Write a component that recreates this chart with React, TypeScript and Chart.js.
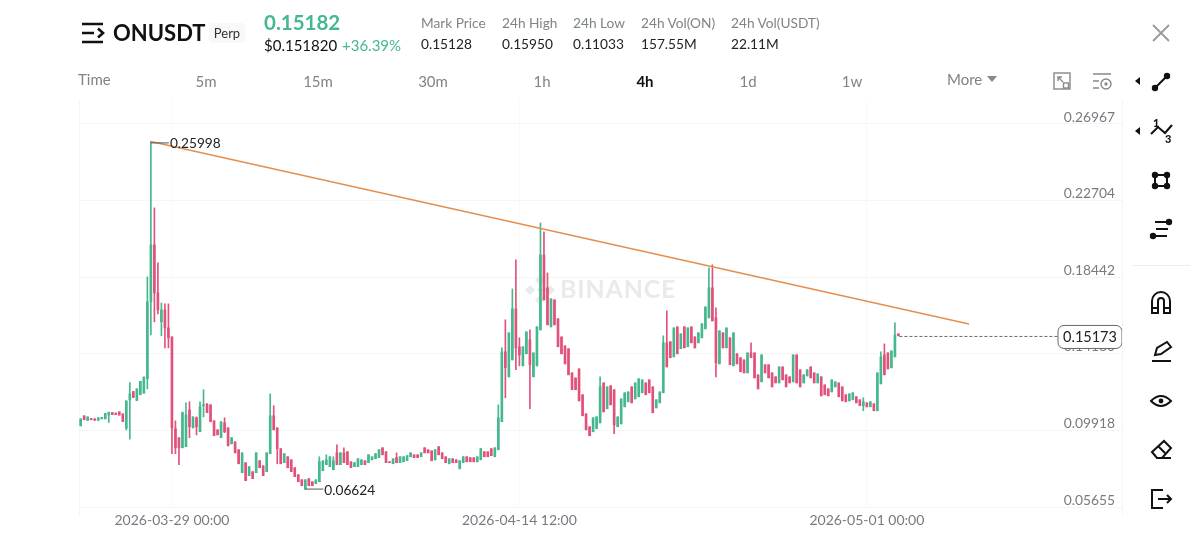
import React, { useEffect, useRef } from "react";
import { Chart, registerables } from "chart.js";

Chart.register(...registerables);

const FONT = "Lato, 'Open Sans', sans-serif";
const UP = "#45b88e";
const DOWN = "#e2517a";
const GRID = "#f4f5f5";
const GRID_FAINT = "#f8f9f9";

// 4h candles, oldest first
const opens = [
  .1017,.1073,.1047,.1058,.1056,.1047,.1056,.1056,.1078,.1091,
  .1088,.1095,.1084,.1004,.1162,.1208,.1158,.1190,.1199,.1279,
  .1707,.2024,.1757,.1596,.1662,.1562,.1512,.1001,.0951,.0895,
  .0901,.1106,.1006,.1062,.0984,.1129,.1140,.1134,.1045,.0995,
  .0951,.1034,.1006,.0917,.0928,.0884,.0756,.0812,.0740,.0762,
  .0756,.0823,.0795,.0762,.0862,.1073,.1006,.0890,.0812,.0845,
  .0828,.0784,.0745,.0717,.0667,.0723,.0706,.0695,.0706,.0767,
  .0801,.0790,.0773,.0867,.0801,.0867,.0873,.0817,.0790,.0790,
  .0801,.0823,.0812,.0828,.0834,.0840,.0895,.0873,.0817,.0806,
  .0840,.0812,.0817,.0823,.0845,.0856,.0856,.0845,.0895,.0884,
  .0878,.0828,.0901,.0867,.0845,.0806,.0834,.0828,.0778,.0812,
  .0845,.0840,.0840,.0817,.0828,.0873,.0873,.0890,.0845,.0884,
  .1040,.1429,.1290,.1384,.1668,.1457,.1351,.1418,.1496,.1290,
  .1351,.1551,.1968,.1785,.1568,.1718,.1613,.1512,.1462,.1446,
  .1312,.1284,.1334,.1190,.1084,.1012,.0984,.1001,.1034,.1256,
  .1112,.1240,.1218,.1012,.1028,.1123,.1151,.1234,.1167,.1179,
  .1201,.1256,.1273,.1234,.1117,.1145,.1201,.1479,.1485,.1401,
  .1568,.1446,.1568,.1457,.1568,.1512,.1479,.1507,.1557,.1618,
  .1785,.1618,.1362,.1535,.1451,.1507,.1351,.1418,.1396,.1384,
  .1312,.1423,.1423,.1301,.1262,.1357,.1357,.1312,.1290,.1256,
  .1345,.1301,.1290,.1262,.1412,.1329,.1256,.1295,.1345,.1312,
  .1256,.1290,.1245,.1223,.1206,.1234,.1256,.1234,.1190,.1156,
  .1162,.1179,.1162,.1129,.1145,.1123,.1140,.1101,.1251,.1412,
  .1423,.1340,.1401,.1529,
];
const closes = [
  .1056,.1051,.1067,.1051,.1048,.1062,.1064,.1086,.1093,.1080,
  .1080,.1077,.1041,.1156,.1195,.1175,.1223,.1265,.1289,.1707,
  .2024,.1757,.1662,.1662,.1562,.1507,.1006,.0895,.0895,.1090,
  .1078,.1012,.1067,.1012,.1123,.1134,.1090,.1040,.0962,.0967,
  .1040,.0984,.0906,.0951,.0867,.0806,.0867,.0712,.0790,.0723,
  .0867,.0784,.0740,.0867,.1073,.0995,.0890,.0806,.0862,.0784,
  .0762,.0734,.0706,.0684,.0717,.0684,.0684,.0717,.0817,.0823,
  .0828,.0845,.0823,.0801,.0867,.0812,.0801,.0784,.0812,.0834,
  .0828,.0801,.0856,.0845,.0862,.0884,.0856,.0812,.0812,.0834,
  .0812,.0845,.0845,.0851,.0867,.0840,.0840,.0867,.0867,.0867,
  .0823,.0884,.0856,.0834,.0812,.0834,.0812,.0812,.0823,.0845,
  .0817,.0817,.0817,.0845,.0890,.0845,.0845,.0851,.0895,.1062,
  .1429,.1340,.1535,.1668,.1451,.1412,.1457,.1540,.1357,.1423,
  .1568,.1968,.1718,.1579,.1724,.1579,.1457,.1418,.1362,.1301,
  .1218,.1218,.1156,.1073,.0995,.0962,.1062,.1067,.1234,.1095,
  .1234,.1134,.1023,.1067,.1167,.1201,.1206,.1145,.1256,.1279,
  .1273,.1190,.1201,.1090,.1162,.1206,.1479,.1345,.1396,.1562,
  .1418,.1529,.1451,.1562,.1479,.1451,.1535,.1585,.1679,.1785,
  .1601,.1368,.1546,.1451,.1562,.1357,.1535,.1362,.1318,.1312,
  .1423,.1396,.1284,.1223,.1412,.1312,.1284,.1234,.1256,.1345,
  .1273,.1234,.1256,.1412,.1256,.1234,.1301,.1329,.1284,.1256,
  .1306,.1184,.1190,.1184,.1273,.1262,.1179,.1156,.1151,.1195,
  .1201,.1145,.1129,.1151,.1123,.1151,.1101,.1312,.1401,.1301,
  .1334,.1434,.1523,.1518,
];
// [candle number (1-based), price]: candles with a visible upper / lower wick
const upperWicks = [
  [15,.1258],[20,.1846],[21,.25998],[22,.2230],[23,.1924],[24,.1701],[25,.1696],[26,.1696],[28,.1045],[30,.1095],
  [31,.1145],[32,.1151],[34,.1067],[35,.1151],[36,.1218],[42,.1062],[55,.1195],[56,.1129],[69,.0845],[71,.0856],
  [73,.0845],[74,.0912],[76,.0895],[91,.0867],[120,.1134],[121,.1451],[122,.1607],[124,.1779],[125,.1941],[126,.1507],
  [129,.1551],[132,.2146],[133,.2096],[134,.1868],[149,.1290],[167,.1518],[168,.1657],[180,.1896],[181,.1913],[182,.1674],
  [192,.1479],[224,.1173],[229,.1429],[230,.1473],[233,.1590],
];
const lowerWicks = [
  [9,.1036],[14,.0995],[15,.0943],[20,.1223],[21,.1523],[22,.1596],[23,.1640],[24,.1518],[25,.1451],[26,.1451],
  [27,.0862],[28,.0862],[29,.0801],[32,.0951],[34,.0967],[36,.1067],[42,.0979],[57,.0806],[65,.06624],[122,.1173],
  [125,.1329],[126,.1351],[129,.1112],[153,.0973],[182,.1290],[224,.1101],
];

const yTicks = [0.26967, 0.22704, 0.18442, 0.1418, 0.09918, 0.05655];
const xTickCandles = [26, 125, 224];
const xTickLabels = ["2026-03-29 00:00", "2026-04-14 12:00", "2026-05-01 00:00"];
const trendLine = [
  { x: 20, y: 0.25998 },
  { x: 253.1, y: 0.15836 },
];
const highMark = { x: 20, y: 0.25998, text: "0.25998" };
const lowMark = { x: 64, y: 0.06624, text: "0.06624" };
const lastPrice = { x: 233, y: 0.15173, text: "0.15173" };

const statCols = [
  { x: 421, label: "Mark Price", value: "0.15128" },
  { x: 502, label: "24h High", value: "0.15950" },
  { x: 573, label: "24h Low", value: "0.11033" },
  { x: 641, label: "24h Vol(ON)", value: "157.55M" },
  { x: 731, label: "24h Vol(USDT)", value: "22.11M" },
];
const tabs = [
  { x: 206, t: "5m" }, { x: 318, t: "15m" }, { x: 433, t: "30m" }, { x: 542, t: "1h" },
  { x: 645, t: "4h", on: true }, { x: 748, t: "1d" }, { x: 852, t: "1w" },
];

const overlayPlugin = {
  id: "overlay",
  beforeDatasetsDraw(chart: any) {
    const { ctx } = chart;
    ctx.save();
    ctx.fillStyle = "#e9eaeb";
    ctx.font = `700 25px ${FONT}`;
    ctx.textBaseline = "middle";
    ctx.letterSpacing = "0.8px";
    ctx.fillText("BINANCE", 560, 290);
    ctx.letterSpacing = "0px";
    const d = (cx: number, cy: number, r: number) => {
      ctx.beginPath();
      ctx.moveTo(cx, cy - r); ctx.lineTo(cx + r, cy); ctx.lineTo(cx, cy + r); ctx.lineTo(cx - r, cy);
      ctx.closePath(); ctx.fill();
    };
    d(540, 280, 5); d(540, 300, 5); d(530, 290, 5); d(550, 290, 5); d(540, 290, 3.5);
    ctx.restore();
  },
  afterDraw(chart: any) {
    const { ctx, scales: { x, y } } = chart;
    ctx.save();
    ctx.font = `13.7px ${FONT}`;
    ctx.textBaseline = "middle";
    ctx.textAlign = "left";
    // high mark
    const hx = x.getPixelForValue(highMark.x), hy = y.getPixelForValue(highMark.y);
    ctx.strokeStyle = "#555"; ctx.lineWidth = 1;
    ctx.beginPath(); ctx.moveTo(hx, hy + 1.5); ctx.lineTo(hx + 18, hy + 1.5); ctx.stroke();
    ctx.fillStyle = "#222";
    ctx.fillText(highMark.text, hx + 19, hy + 2);
    // low mark
    const lx = x.getPixelForValue(lowMark.x), ly = y.getPixelForValue(lowMark.y);
    ctx.beginPath(); ctx.moveTo(lx, ly - 0.5); ctx.lineTo(lx + 18, ly - 0.5); ctx.stroke();
    ctx.fillText(lowMark.text, lx + 19, ly + 1);
    // last price line and box
    const px = x.getPixelForValue(lastPrice.x), py = y.getPixelForValue(lastPrice.y);
    const right = chart.chartArea.right;
    ctx.strokeStyle = "#666";
    ctx.setLineDash([3, 2]);
    ctx.beginPath(); ctx.moveTo(px + 1, py + 0.5); ctx.lineTo(right - 64, py + 0.5); ctx.stroke();
    ctx.setLineDash([]);
    ctx.beginPath();
    ctx.roundRect(right - 64, py - 10.5, 64, 23, 6);
    ctx.fillStyle = "#fff"; ctx.fill();
    ctx.strokeStyle = "#666"; ctx.stroke();
    ctx.fillStyle = "#222";
    ctx.font = `14.5px ${FONT}`;
    ctx.textAlign = "center";
    ctx.fillText(lastPrice.text, right - 32, py + 1.5);
    ctx.restore();
  },
};

const abs = (x: number, y: number, extra: any = {}): any => ({
  position: "absolute", left: x, top: y, whiteSpace: "nowrap", lineHeight: "1", ...extra,
});

const Dot = ({ cx, cy, r = 3.2 }: any) => <circle cx={cx} cy={cy} r={r} fill="#111" />;

function Icons() {
  const s = { stroke: "#111", strokeWidth: 2, fill: "none" };
  return (
    <svg width={1200} height={553} style={{ position: "absolute", left: 0, top: 0, pointerEvents: "none" }}>
      {/* menu */}
      <g stroke="#111" strokeWidth={2.6} fill="none">
        <path d="M82 24H103M82 33H94M82 42H103M98 28.5L103 33L98 37.5" />
      </g>
      {/* close */}
      <path d="M1153 25L1169 41M1169 25L1153 41" stroke="#999" strokeWidth={1.8} />
      {/* tab tools */}
      <g stroke="#888" strokeWidth={1.4} fill="none">
        <rect x={1054} y={73} width={16} height={16} />
        <path d="M1058 77L1063 82M1058 81V77H1062" />
        <rect x={1063.5} y={83} width={5} height={5} fill="#fff" />
        <path d="M1093 74H1111M1093 81H1099M1093 88H1099" />
        <circle cx={1106} cy={84} r={5} />
        <circle cx={1106} cy={84} r={1} />
      </g>
      <path d="M987 76H997L992 82Z" fill="#888" />
      {/* tools */}
      <path d="M1135 81L1140 77V85Z M1135 131L1140 127V135Z" fill="#111" />
      <path d="M1155 88L1167 76" {...s} /><Dot cx={1155} cy={88} /><Dot cx={1167} cy={76} />
      <path d="M1151 134L1158 127L1165 133L1172 125" {...s} />
      <text x={1153} y={127} fontSize={11} fontWeight={900} fontFamily={FONT} fill="#111">1</text>
      <text x={1165} y={143} fontSize={11} fontWeight={900} fontFamily={FONT} fill="#111">3</text>
      <rect x={1155} y={175} width={12} height={11} {...s} />
      <Dot cx={1155} cy={175} /><Dot cx={1167} cy={175} /><Dot cx={1155} cy={186} /><Dot cx={1167} cy={186} />
      <path d="M1155 222H1169M1156 229H1168M1153 236H1167" {...s} />
      <Dot cx={1169} cy={222} /><Dot cx={1153} cy={236} />
      <path d="M1132 265.5H1190" stroke="#eee" />
      {/* magnet */}
      <path d="M1152 313V301A9 9 0 0 1 1170 301V313H1164V301A3 3 0 0 0 1158 301V313ZM1152 308H1158M1164 308H1170" {...s} />
      {/* pencil */}
      <path d="M1155 355L1157 348L1167 342L1171 347L1161 354ZM1152 361H1171" {...s} />
      {/* eye */}
      <path d="M1151 401Q1161 391 1171 401Q1161 411 1151 401Z" {...s} />
      <circle cx={1161} cy={401} r={2.4} fill="#111" />
      {/* eraser */}
      <path d="M1152 452L1164 441L1171 448L1162 458H1157ZM1157 458H1171M1158 446L1165 453" {...s} />
      {/* exit */}
      <path d="M1163 490H1152V508H1163M1158 499H1171M1167 495L1171 499L1167 503" {...s} />
      {/* frame lines beside the plot */}
      <path d="M1122.5 100V515M79.5 507V516" stroke="#f4f5f5" />
    </svg>
  );
}

export default function App() {
  const ref = useRef<HTMLCanvasElement>(null);
  useEffect(() => {
    const high = new Map(upperWicks as [number, number][]);
    const low = new Map(lowerWicks as [number, number][]);
    const colors = opens.map((o, i) => (closes[i] >= o ? UP : DOWN));
    const bodies = opens.map((o, i) => ({ x: i, y: [Math.min(o, closes[i]), Math.max(o, closes[i])] }));
    const wicks = opens.map((o, i) => ({
      x: i,
      y: [low.get(i + 1) ?? Math.min(o, closes[i]), high.get(i + 1) ?? Math.max(o, closes[i])],
    }));
    const chart = new Chart(ref.current!, {
      type: "bar",
      data: {
        datasets: [
          {
            type: "line", label: "Trend", data: trendLine, borderColor: "#e58f4f", borderWidth: 1.6,
            pointRadius: 0, order: 0, parsing: { xAxisKey: "x", yAxisKey: "y" },
          },
          {
            label: "Body", data: bodies, backgroundColor: colors, barThickness: 2, grouped: false,
            minBarLength: 1, order: 1,
          },
          {
            label: "Wick", data: wicks, backgroundColor: colors, barThickness: 1, grouped: false, order: 2,
          },
        ] as any,
      },
      options: {
        responsive: false,
        animation: false,
        layout: { padding: { left: 79, right: 78, top: 100, bottom: 0 } },
        plugins: { legend: { display: false }, tooltip: { enabled: false } },
        scales: {
          x: {
            type: "linear",
            offset: false,
            min: -0.48,
            max: 296.7,
            grid: {
              color: (c: any) => (c.index === 0 ? GRID : GRID_FAINT),
              offset: false,
              drawTicks: false,
            },
            border: { display: false },
            afterBuildTicks: (s: any) => { s.ticks = [-0.48, ...xTickCandles].map((value) => ({ value })); },
            afterFit: (s: any) => { s.height = 46; },
            ticks: {
              autoSkip: false, maxRotation: 0, padding: 5, color: "#777b80",
              font: { family: FONT, size: 14 },
              callback: (v: any) => xTickLabels[xTickCandles.indexOf(v)] ?? "",
            },
          },
          y: {
            type: "linear",
            position: "right",
            min: 0.05655,
            max: 0.28302,
            grid: { color: GRID, drawTicks: false },
            border: { display: false },
            afterBuildTicks: (s: any) => { s.ticks = yTicks.map((value) => ({ value })); },
            afterFit: (s: any) => { s.width = 0; },
            ticks: {
              mirror: true, padding: -7, color: "#777b80",
              font: { family: FONT, size: 13.8, lineHeight: 1 },
              callback: (v: any) => [Number(v).toFixed(5), ""],
            } as any,
          },
        },
      } as any,
      plugins: [overlayPlugin],
    });
    return () => chart.destroy();
  }, []);

  return (
    <div style={{ position: "absolute", left: 0, top: 0, width: 1200, height: 553, overflow: "hidden", background: "#fff", fontFamily: FONT }}>
      <canvas ref={ref} width={1200} height={553} style={{ position: "absolute", left: 0, top: 0, display: "block" }} />
      <Icons />
      <div style={abs(113, 22, { fontSize: 22, fontWeight: 700, color: "#111" })}>ONUSDT</div>
      <div style={abs(209, 23, { width: 36, height: 20, background: "#f8f8f8", borderRadius: 3, fontSize: 13, color: "#333", textAlign: "center", lineHeight: "20px" })}>Perp</div>
      <div style={abs(264, 12, { fontSize: 20.5, fontWeight: 700, color: UP })}>0.15182</div>
      <div style={abs(264, 38, { fontSize: 15, color: "#111" })}>$0.151820</div>
      <div style={abs(342, 38, { fontSize: 15, color: UP })}>+36.39%</div>
      {statCols.map((c) => (
        <React.Fragment key={c.x}>
          <div style={abs(c.x, 16, { fontSize: 13.7, color: "#7f8488" })}>{c.label}</div>
          <div style={abs(c.x, 37, { fontSize: 13.7, color: "#222" })}>{c.value}</div>
        </React.Fragment>
      ))}
      <div style={abs(78, 72, { fontSize: 15, color: "#7f8488" })}>Time</div>
      {tabs.map((t) => (
        <div key={t.t} style={abs(t.x, 74, { fontSize: 15, transform: "translateX(-50%)", color: t.on ? "#111" : "#7f8488", fontWeight: t.on ? 700 : 400 })}>{t.t}</div>
      ))}
      <div style={abs(947, 72, { fontSize: 15, color: "#7f8488" })}>More</div>
    </div>
  );
}
